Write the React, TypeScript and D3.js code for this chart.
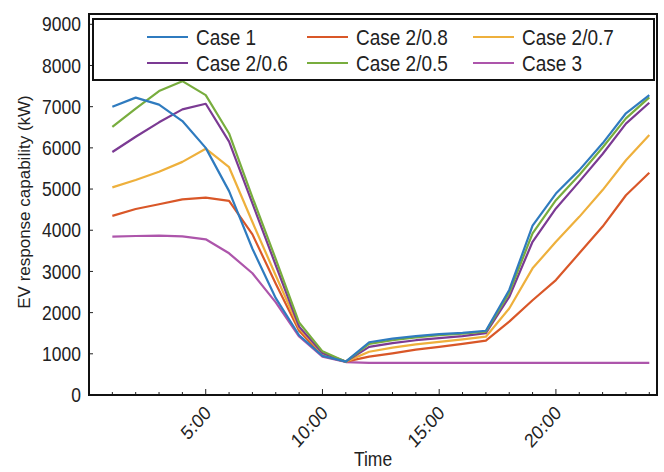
import React, { useEffect, useRef } from 'react';
import * as d3 from 'd3';

// hours 1..24
const hours = d3.range(1, 25);

const case1 = [7000, 7220, 7050, 6650, 6000, 4950, 3550, 2350, 1450, 950, 810, 1280, 1370, 1430, 1480, 1510, 1560, 2550, 4110, 4890, 5460, 6110, 6840, 7280];
const case208 = [4350, 4515, 4630, 4750, 4790, 4715, 3900, 2700, 1560, 960, 810, 930, 1010, 1100, 1170, 1240, 1320, 1780, 2300, 2790, 3440, 4090, 4850, 5395];
const case207 = [5040, 5220, 5420, 5660, 5980, 5530, 4200, 2900, 1620, 1000, 810, 1050, 1150, 1230, 1290, 1350, 1415, 2100, 3075, 3720, 4325, 4975, 5700, 6310];
const case206 = [5900, 6270, 6620, 6935, 7070, 6150, 4650, 3150, 1660, 1020, 810, 1170, 1260, 1330, 1380, 1430, 1500, 2380, 3720, 4530, 5180, 5850, 6590, 7095];
const case205 = [6510, 6950, 7380, 7620, 7280, 6350, 4800, 3300, 1760, 1060, 810, 1240, 1330, 1400, 1450, 1490, 1540, 2480, 3925, 4730, 5340, 6010, 6715, 7225];
const case3 = [3845, 3860, 3870, 3850, 3780, 3440, 2955, 2250, 1420, 930, 800, 780, 780, 780, 780, 780, 780, 780, 780, 780, 780, 780, 780, 780];

const seriesNames = ['Case 1', 'Case 2/0.8', 'Case 2/0.7', 'Case 2/0.6', 'Case 2/0.5', 'Case 3'];
const seriesValues = [case1, case208, case207, case206, case205, case3];
const seriesColors = ['#2f7bbf', '#d95728', '#eeb03c', '#7b3a93', '#78ad3e', '#ad55ab'];

const yTicks = [0, 1000, 2000, 3000, 4000, 5000, 6000, 7000, 8000, 9000];
const xMajor = [5, 10, 15, 20];
const xLabels = ['5:00', '10:00', '15:00', '20:00'];

// draw order (case 3 at the bottom, blue on top)
const drawOrder = [5, 1, 2, 3, 4, 0];

const App = () => {
  const svgRef = useRef(null);

  useEffect(() => {
    const width = 664;
    const height = 472;
    const left = 89, right = 657, top = 14, bottom = 395;
    const font = 'Liberation Sans, Arial, sans-serif';
    const sy = 1.12; // text looks slightly stretched vertically

    const svg = d3.select(svgRef.current);
    svg.selectAll('*').remove();
    svg.attr('width', width).attr('height', height);

    const x = d3.scaleLinear().domain([0, 24.33]).range([left, right]);
    const y = d3.scaleLinear().domain([0, 9250]).range([bottom, top]);

    // lines
    const line = d3.line<number>()
      .x((d, i) => x(hours[i]))
      .y(d => y(d));

    drawOrder.forEach(k => {
      svg.append('path')
        .datum(seriesValues[k])
        .attr('d', line)
        .attr('fill', 'none')
        .attr('stroke', seriesColors[k])
        .attr('stroke-width', 2.2)
        .attr('stroke-linejoin', 'round');
    });

    // y ticks (inside)
    yTicks.forEach(t => {
      svg.append('line')
        .attr('x1', left).attr('x2', left + 4)
        .attr('y1', y(t)).attr('y2', y(t))
        .attr('stroke', '#222').attr('stroke-width', 1);
      svg.append('g')
        .attr('transform', `translate(${left - 8},${y(t)}) scale(1,${sy})`)
        .append('text')
        .attr('text-anchor', 'end')
        .attr('dy', '0.36em')
        .attr('font-family', font)
        .attr('font-size', 17.5)
        .attr('fill', '#222')
        .text(t);
    });

    // x ticks (inside, every hour)
    d3.range(1, 25).forEach(h => {
      const major = xMajor.includes(h);
      svg.append('line')
        .attr('x1', x(h)).attr('x2', x(h))
        .attr('y1', bottom).attr('y2', bottom - (major ? 6 : 3))
        .attr('stroke', '#222').attr('stroke-width', 1);
    });

    xMajor.forEach((h, i) => {
      svg.append('g')
        .attr('transform', `translate(${x(h) + 2},${bottom + 14}) scale(1,${sy}) rotate(-45)`)
        .append('text')
        .attr('text-anchor', 'end')
        .attr('dy', '0.36em')
        .attr('font-family', font)
        .attr('font-size', 17.5)
        .attr('fill', '#222')
        .text(xLabels[i]);
    });

    // frame
    svg.append('rect')
      .attr('x', left).attr('y', top)
      .attr('width', right - left).attr('height', bottom - top)
      .attr('fill', 'none')
      .attr('stroke', '#111')
      .attr('stroke-width', 2);

    // axis titles
    svg.append('g')
      .attr('transform', `translate(${(left + right) / 2},${459}) scale(1,${sy})`)
      .append('text')
      .attr('text-anchor', 'middle')
      .attr('dy', '0.36em')
      .attr('font-family', font)
      .attr('font-size', 17.5)
      .attr('fill', '#222')
      .text('Time');

    svg.append('g')
      .attr('transform', `translate(24,${202}) rotate(-90)`)
      .append('text')
      .attr('text-anchor', 'middle')
      .attr('dy', '0.36em')
      .attr('font-family', font)
      .attr('font-size', 17)
      .attr('fill', '#222')
      .text('EV response capability (kW)');

    // legend
    const lg = svg.append('g');
    lg.append('rect')
      .attr('x', 93).attr('y', 19)
      .attr('width', 561).attr('height', 61)
      .attr('fill', '#fff')
      .attr('stroke', '#111')
      .attr('stroke-width', 2);

    const colX = [147, 307, 473];
    const rowY = [37, 63];
    seriesNames.forEach((name, i) => {
      const cx = colX[i % 3];
      const cy = rowY[Math.floor(i / 3)];
      lg.append('line')
        .attr('x1', cx).attr('x2', cx + 41)
        .attr('y1', cy).attr('y2', cy)
        .attr('stroke', seriesColors[i])
        .attr('stroke-width', 2.2);
      lg.append('g')
        .attr('transform', `translate(${cx + 49},${cy}) scale(1,${sy})`)
        .append('text')
        .attr('dy', '0.36em')
        .attr('font-family', font)
        .attr('font-size', 19)
        .attr('fill', '#222')
        .text(name);
    });
  }, []);

  return <svg ref={svgRef} style={{ position: 'absolute', left: 0, top: 0 }}></svg>;
};

export default App;
